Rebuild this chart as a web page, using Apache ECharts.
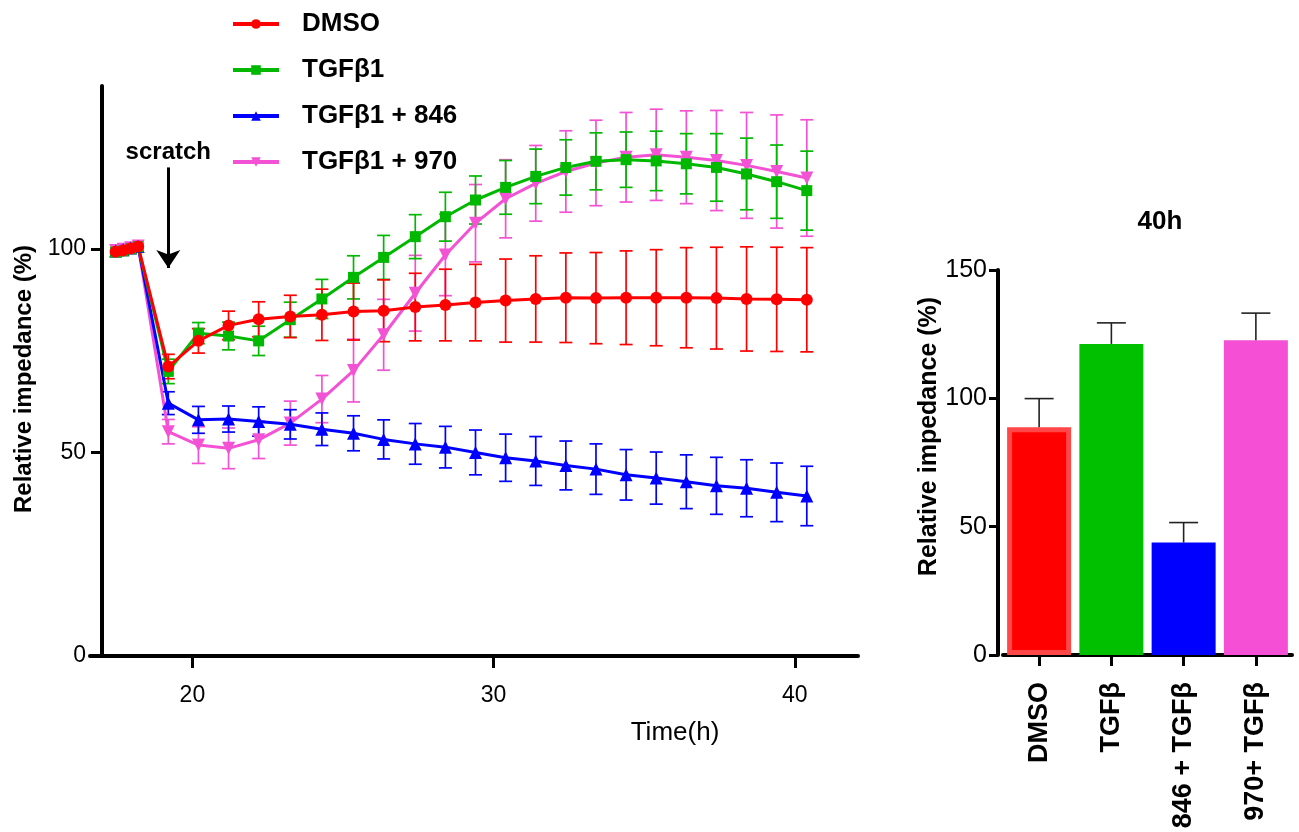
<!DOCTYPE html>
<html><head><meta charset="utf-8">
<script src="https://cdn.jsdelivr.net/npm/echarts@6/dist/echarts.min.js"></script>
<style>html,body{margin:0;padding:0;background:#fff}#c{width:1299px;height:832px}</style>
</head><body><div id="c"></div>
<script>
// ---- Data (left: time course) ----
const timeH = [17.45,17.7,17.95,18.2,19.2,20.2,21.2,22.2,23.25,24.3,25.35,26.35,27.4,28.4,29.4,30.4,31.4,32.4,33.4,34.4,35.4,36.4,37.4,38.4,39.4,40.4];
const dmsoMean = [99.3,99.6,100.1,100.6,71.1,77.4,81.2,82.7,83.4,83.8,84.6,84.8,85.7,86.2,86.8,87.3,87.7,88.0,87.9,88.0,88.0,88.0,87.9,87.7,87.6,87.5];
const dmsoErr  = [0,0,0,0,3.0,3.0,3.5,4.3,5.2,6.3,7.0,7.6,8.3,8.8,9.4,10.2,10.6,11.0,11.2,11.5,11.8,12.3,12.5,12.8,12.8,12.8];
const tgfMean  = [99.2,99.5,100.0,100.5,69.9,79.3,78.6,77.4,82.6,87.7,93.0,97.9,103.0,107.9,112.0,115.1,117.8,120.0,121.5,121.9,121.6,120.9,120.0,118.4,116.5,114.3];
const tgfErr   = [0,0,0,0,3.0,2.6,3.4,3.6,4.3,4.8,5.3,5.4,5.4,6.0,5.9,6.6,6.7,6.8,7.0,6.8,7.3,7.4,8.3,8.8,9.0,9.7];
const t846Mean = [99.5,99.8,100.2,100.6,62.1,58.0,58.2,57.6,56.9,55.7,54.7,53.2,52.1,51.3,50.0,48.7,47.9,46.8,45.9,44.5,43.7,42.8,41.8,41.2,40.2,39.3];
const t846Err  = [0,0,0,0,2.8,3.3,3.2,3.6,3.6,4.0,4.3,4.8,5.0,5.1,5.5,5.8,6.0,6.0,6.2,6.2,6.4,6.6,7.0,7.0,7.2,7.3];
const t970Mean = [99.6,99.9,100.3,100.7,55.1,51.8,51.0,53.1,57.2,63.1,70.1,78.9,89.1,98.5,106.3,112.3,116.1,119.0,121.1,122.5,123.1,122.5,121.7,120.5,119.0,117.4];
const t970Err  = [0,0,0,0,3.0,4.5,5.0,4.6,5.4,5.8,7.7,8.7,9.3,10.0,9.5,9.6,9.3,10.0,10.5,11.0,11.2,11.4,12.3,13.0,13.9,14.3];
const xTicks = [20,30,40];
const yTicksLeft = [0,50,100];
const scratchTime = 19.2;
const scratchArrow = [120, 95.3];

// ---- Data (right: 40h bars) ----
const barCats = ['DMSO','TGFβ','846 + TGFβ','970+ TGFβ'];
const barMean = [88.7,121.2,43.8,122.6];
const barSD   = [11.2,8.2,7.8,10.6];
const yTicksRight = [0,50,100,150];

const names = ['DMSO','TGFβ1','TGFβ1 + 846','TGFβ1 + 970'];
const colors = ['#ff0000','#00b800','#0000ff','#f452d4'];
const barColors = ['#ff0000','#00c000','#0000ff','#f550d5'];

function pairs(xs, ys){ return xs.map((x,i)=>[x, ys[i]]); }
function errData(xs, m, e){ return xs.map((x,i)=>[x, m[i]-e[i], m[i]+e[i]]); }

function errRender(color, capW, lw){
  return function(params, api){
    const x = api.value(0), lo = api.value(1), hi = api.value(2);
    if (hi - lo < 0.01) return null;
    const a = api.coord([x, hi]), b = api.coord([x, lo]);
    const st = {stroke: color, lineWidth: lw, fill: null};
    return {type:'group', children:[
      {type:'line', shape:{x1:a[0],y1:a[1],x2:b[0],y2:b[1]}, style:st},
      {type:'line', shape:{x1:a[0]-capW/2,y1:a[1],x2:a[0]+capW/2,y2:a[1]}, style:st},
      {type:'line', shape:{x1:b[0]-capW/2,y1:b[1],x2:b[0]+capW/2,y2:b[1]}, style:st}
    ]};
  };
}

const FONT = '"Liberation Sans", Arial, sans-serif';
const means = [dmsoMean, tgfMean, t846Mean, t970Mean];
const errs = [dmsoErr, tgfErr, t846Err, t970Err];
const symbols = ['circle','rect','triangle','triangle'];
const symSizes = [12,11,13,13];
const rot = [0,0,0,180];

const series = [];
// draw order: pink, blue, green, red (red on top)
[3,2,1,0].forEach(i=>{
  series.push({
    name: names[i]+' err', type:'custom', xAxisIndex:0, yAxisIndex:0,
    renderItem: errRender(colors[i], 13, 1.7),
    data: errData(timeH, means[i], errs[i]), encode:{x:0, y:[1,2]},
    z: 1, silent:true
  });
});
[3,2,1,0].forEach(i=>{
  const s = {
    name: names[i], type:'line', xAxisIndex:0, yAxisIndex:0,
    data: pairs(timeH, means[i]),
    symbol: symbols[i], symbolSize: symSizes[i], symbolRotate: rot[i],
    showAllSymbol: true,
    lineStyle:{color: colors[i], width: 3},
    itemStyle:{color: colors[i]},
    z: 3
  };
  if (i === 0) {
    s.markLine = {
      silent: true, symbol: ['none','arrow'], symbolSize: 18,
      lineStyle: {color:'#000', width:3, type:'solid'},
      label: {show:true, position:'start', formatter:'scratch', color:'#000', fontSize:24, fontWeight:'bold', fontFamily:FONT, distance:3},
      data: [[{coord:[scratchTime, scratchArrow[0]]},{coord:[scratchTime, scratchArrow[1]]}]]
    };
  }
  series.push(s);
});

series.push({
  name:'40h', type:'bar', xAxisIndex:1, yAxisIndex:1, barWidth:64,
  data: barMean.map((v,i)=>({value:v, itemStyle: i===0 ? {color:barColors[i], borderColor:'#ff4747', borderWidth:5} : {color:barColors[i]}})),
  z:2
});
series.push({
  name:'40h err', type:'custom', xAxisIndex:1, yAxisIndex:1, silent:true, z:3,
  data: barMean.map((v,i)=>[i, v, v+barSD[i]]),
  encode:{x:0, y:[1,2]},
  renderItem: function(params, api){
    const x = api.value(0), lo = api.value(1), hi = api.value(2);
    const a = api.coord([x, hi]), b = api.coord([x, lo]);
    const st = {stroke:'#222', lineWidth:1.6};
    return {type:'group', children:[
      {type:'line', shape:{x1:a[0],y1:a[1],x2:b[0],y2:b[1]}, style:st},
      {type:'line', shape:{x1:a[0]-14.5,y1:a[1],x2:a[0]+14.5,y2:a[1]}, style:st}
    ]};
  }
});

const axisLine = {show:true, lineStyle:{color:'#000', width:4}};

const option = {
  animation:false,
  textStyle:{fontFamily:FONT, color:'#000'},
  title:{text:'40h', left:1155, top:204, textAlign:'center',
    textStyle:{fontFamily:FONT, fontSize:26, fontWeight:'bold', color:'#000'}},
  legend:{
    data: names, orient:'vertical', left:231, top:11, padding:0,
    itemWidth:46, itemHeight:12, itemGap:20,
    lineStyle:{width:4},
    textStyle:{fontFamily:FONT, fontSize:26, fontWeight:'bold', color:'#000', lineHeight:26, padding:[0,0,0,18]}
  },
  grid:[
    {left:90, right:441, top:86, bottom:176},
    {left:1003, right:7, top:270, bottom:177}
  ],
  xAxis:[
    {type:'value', gridIndex:0, min:16.6, max:42.1, interval:10,
     name:'Time(h)', nameLocation:'middle', nameGap:64,
     nameTextStyle:{fontFamily:FONT, fontSize:26, color:'#000', padding:[0,0,0,402]},
     axisLine: axisLine,
     axisTick:{show:true, length:12, lineStyle:{color:'#000', width:3}, customValues:xTicks},
     axisLabel:{fontSize:23, color:'#000', margin:28, customValues:xTicks},
     splitLine:{show:false}},
    {type:'category', gridIndex:1, data:barCats,
     axisLine: axisLine,
     axisTick:{show:true, alignWithLabel:true, length:11, lineStyle:{color:'#000', width:3}},
     axisLabel:{fontSize:27, fontWeight:'bold', color:'#000', rotate:90, margin:27, interval:0},
     splitLine:{show:false}}
  ],
  yAxis:[
    {type:'value', gridIndex:0, min:0, max:140, interval:50, offset:-12,
     name:'Relative impedance (%)', nameLocation:'middle', nameGap:63,
     nameTextStyle:{fontFamily:FONT, fontSize:24, fontWeight:'bold', color:'#000', padding:[0,16,0,0]},
     axisLine: axisLine,
     axisTick:{show:true, length:11, lineStyle:{color:'#000', width:3}, customValues:yTicksLeft},
     axisLabel:{fontSize:23, color:'#000', margin:16, customValues:yTicksLeft},
     splitLine:{show:false}},
    {type:'value', gridIndex:1, min:0, max:150, interval:50, offset:5,
     name:'Relative impedance (%)', nameLocation:'middle', nameGap:56,
     nameTextStyle:{fontFamily:FONT, fontSize:25, fontWeight:'bold', color:'#000', padding:[0,0,0,52]},
     axisLine: axisLine,
     axisTick:{show:true, length:9, lineStyle:{color:'#000', width:3}, customValues:yTicksRight},
     axisLabel:{fontSize:25, color:'#000', margin:11, customValues:yTicksRight},
     splitLine:{show:false}}
  ],
  series: series
};
const chart = echarts.init(document.getElementById('c'), null, {renderer:'canvas'});
chart.setOption(option);
</script>
</body></html>
